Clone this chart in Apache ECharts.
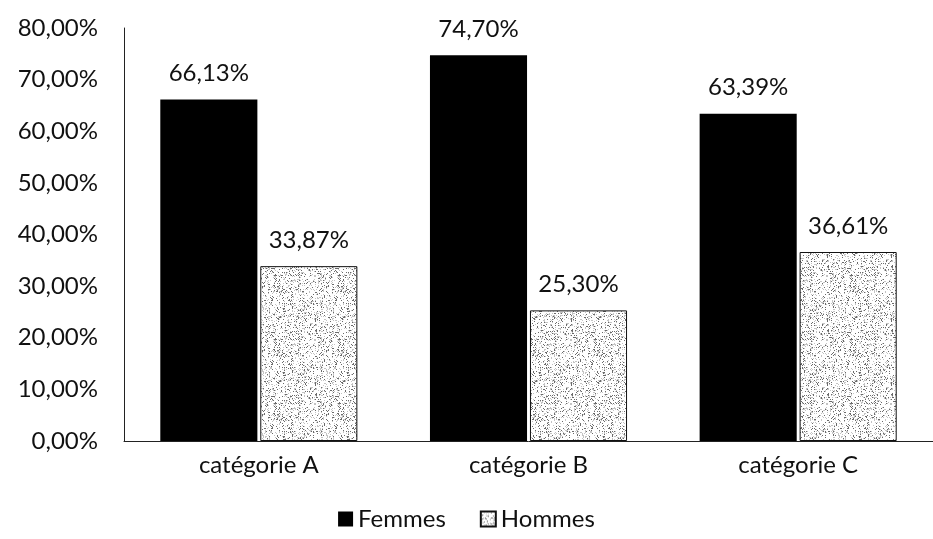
<!DOCTYPE html>
<html>
<head>
<meta charset="utf-8">
<script src="https://cdn.jsdelivr.net/npm/echarts@6/dist/echarts.min.js"></script>
<style>html,body{margin:0;padding:0;background:#fff}#c{width:933px;height:539px}</style>
</head>
<body>
<div id="c"></div>
<script>
var categories = ['catégorie A', 'catégorie B', 'catégorie C'];
var femmes = [66.13, 74.70, 63.39];
var hommes = [33.87, 25.30, 36.61];
var yTicks = [0, 10, 20, 30, 40, 50, 60, 70, 80];

function fmt(v) { return v.toFixed(2).replace('.', ',') + '%'; }

// deterministic stipple texture
function makePattern() {
  var cv = document.createElement('canvas');
  cv.width = 64; cv.height = 64;
  var ctx = cv.getContext('2d');
  ctx.fillStyle = '#ffffff';
  ctx.fillRect(0, 0, 64, 64);
  var s = 12345;
  function next() { s = (s * 1103515245 + 12345) & 0x7fffffff; return s / 0x7fffffff; }
  for (var y = 0; y < 64; y++) {
    for (var x = 0; x < 64; x++) {
      var r = next();
      if (r < 0.10) { ctx.fillStyle = '#6a6a6a'; ctx.fillRect(x, y, 1, 1); }
      else if (r < 0.24) { ctx.fillStyle = '#c4c4c4'; ctx.fillRect(x, y, 1, 1); }
    }
  }
  return cv;
}
var pat = makePattern();

var chart = echarts.init(document.getElementById('c'), null, {renderer: 'canvas'});
var font = 'Lato, "Open Sans", sans-serif';
var fs = 24;
chart.setOption({
  animation: false,
  textStyle: {fontFamily: font},
  grid: {left: 124, top: 28, width: 814, height: 413, containLabel: false},
  legend: {
    bottom: 3, left: 'center', itemWidth: 15, itemHeight: 15, itemGap: 34,
    icon: 'rect',
    textStyle: {fontSize: fs, color: '#111', fontFamily: font},
    data: ['Femmes', 'Hommes']
  },
  xAxis: {
    type: 'category', data: categories,
    axisLine: {lineStyle: {color: '#222', width: 1}},
    axisTick: {show: false},
    axisLabel: {fontSize: fs, color: '#111', margin: 12, fontFamily: font}
  },
  yAxis: {
    type: 'value', min: 0, max: 80, interval: 10,
    axisLine: {show: true, lineStyle: {color: '#222', width: 1}},
    axisTick: {show: false},
    splitLine: {show: false},
    axisLabel: {fontSize: fs, color: '#111', margin: 26, fontFamily: font, formatter: function (v) { return yTicks.indexOf(v) >= 0 ? fmt(v) : ''; }}
  },
  series: [
    {
      name: 'Femmes', type: 'bar', data: femmes, barWidth: '36%', barGap: '3%',
      itemStyle: {color: '#000000'},
      label: {show: true, position: 'top', distance: 14, fontSize: fs, color: '#111', fontFamily: font, formatter: function (p) { return fmt(p.value); }}
    },
    {
      name: 'Hommes', type: 'bar', data: hommes, barWidth: '36%',
      itemStyle: {color: {image: pat, repeat: 'repeat'}, borderColor: '#111', borderWidth: 1},
      label: {show: true, position: 'top', distance: 14, fontSize: fs, color: '#111', fontFamily: font, formatter: function (p) { return fmt(p.value); }}
    }
  ]
});
</script>
</body>
</html>
